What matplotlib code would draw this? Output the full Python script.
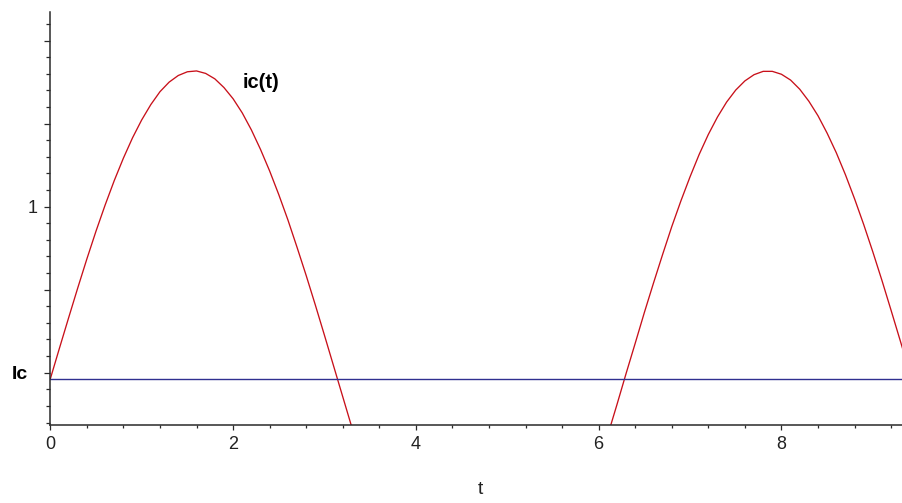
import matplotlib
matplotlib.use("Agg")
import matplotlib.pyplot as plt
from matplotlib.ticker import MultipleLocator, FixedLocator, FixedFormatter

# ic(t) sampled on the rising/falling arch that is visible, step 0.1
t_first = [0.0, 0.1, 0.2, 0.3, 0.4, 0.5, 0.6, 0.7, 0.8, 0.9, 1.0, 1.1, 1.2,
           1.3, 1.4, 1.5, 1.6, 1.7, 1.8, 1.9, 2.0, 2.1, 2.2, 2.3, 2.4, 2.5,
           2.6, 2.7, 2.8, 2.9, 3.0, 3.1, 3.2, 3.3, 3.4]
ic_first = [0.585, 0.659, 0.732, 0.804, 0.874, 0.941, 1.004, 1.063, 1.117,
            1.166, 1.209, 1.246, 1.277, 1.300, 1.316, 1.325, 1.327, 1.321,
            1.308, 1.287, 1.260, 1.226, 1.185, 1.138, 1.086, 1.029, 0.968,
            0.902, 0.834, 0.763, 0.690, 0.616, 0.542, 0.468, 0.395]

t_second = [6.1, 6.2, 6.3, 6.4, 6.5, 6.6, 6.7, 6.8, 6.9, 7.0, 7.1, 7.2, 7.3,
            7.4, 7.5, 7.6, 7.7, 7.8, 7.9, 8.0, 8.1, 8.2, 8.3, 8.4, 8.5, 8.6,
            8.7, 8.8, 8.9, 9.0, 9.1, 9.2, 9.3, 9.4]
ic_second = [0.450, 0.523, 0.598, 0.671, 0.745, 0.816, 0.885, 0.952, 1.014,
             1.072, 1.126, 1.174, 1.216, 1.252, 1.281, 1.303, 1.318, 1.326,
             1.326, 1.319, 1.305, 1.283, 1.254, 1.219, 1.177, 1.130, 1.077,
             1.019, 0.957, 0.891, 0.822, 0.750, 0.677, 0.603]

# constant level Ic
Ic = 0.585

x_ticks = [0, 2, 4, 6, 8]
x_tick_labels = ["0", "2", "4", "6", "8"]
y_ticks = [0.6, 0.8, 1.0, 1.2, 1.4]
y_tick_labels = ["", "", "1", "", ""]

narrow = ["Liberation Sans Narrow", "Liberation Sans", "DejaVu Sans"]
bold = ["Liberation Sans", "DejaVu Sans"]

W, H = 903, 503
fig = plt.figure(figsize=(W / 100, H / 100), dpi=100)
left, right, bottom, top = 50.3, 903, 425, 12
ax = fig.add_axes([left / W, 1 - bottom / H, (right - left) / W, (bottom - top) / H])

ax.plot(t_first, ic_first, color="#c8101a", lw=0.95)
ax.plot(t_second, ic_second, color="#c8101a", lw=0.95)
ax.axhline(Ic, color="#303090", lw=1.0)

ax.set_xlim(0, 9.33)
ax.set_ylim(0.474, 1.469)

for side in ("top", "right"):
    ax.spines[side].set_visible(False)
for side in ("left", "bottom"):
    ax.spines[side].set_color("#2a2a2a")
    ax.spines[side].set_linewidth(1.1)

ax.xaxis.set_major_locator(FixedLocator(x_ticks))
ax.xaxis.set_major_formatter(FixedFormatter(x_tick_labels))
ax.xaxis.set_minor_locator(MultipleLocator(0.4))
ax.yaxis.set_major_locator(FixedLocator(y_ticks))
ax.yaxis.set_major_formatter(FixedFormatter(y_tick_labels))
ax.yaxis.set_minor_locator(MultipleLocator(0.04))

ax.tick_params(axis="x", which="major", length=3.5, width=0.9, color="#2a2a2a",
               pad=4.5, labelsize=13, labelcolor="#222222")
ax.tick_params(axis="x", which="minor", length=2, width=0.9, color="#2a2a2a")
ax.tick_params(axis="y", which="major", length=4.5, width=0.9, color="#2a2a2a",
               pad=4.5, labelsize=13, labelcolor="#222222")
ax.tick_params(axis="y", which="minor", length=3, width=0.9, color="#2a2a2a")
for lab in ax.get_xticklabels() + ax.get_yticklabels():
    lab.set_family(narrow)

ax.set_xlabel("t", family=narrow, fontsize=14, color="#222222", va="center")
ax.xaxis.set_label_coords((480 - left) / (right - left), -(490 - bottom) / (bottom - top))

ax.annotate("Ic", xy=(0, Ic), xycoords=("axes fraction", "data"),
            xytext=(-16, 3), textcoords="offset points",
            ha="right", va="center", fontsize=14, fontweight="bold", family=bold)
ax.text(2.105, 1.298, "ic(t)", ha="left", va="center", fontsize=14.5,
        fontweight="bold", family=bold)

fig.savefig("out.png", dpi=100)
